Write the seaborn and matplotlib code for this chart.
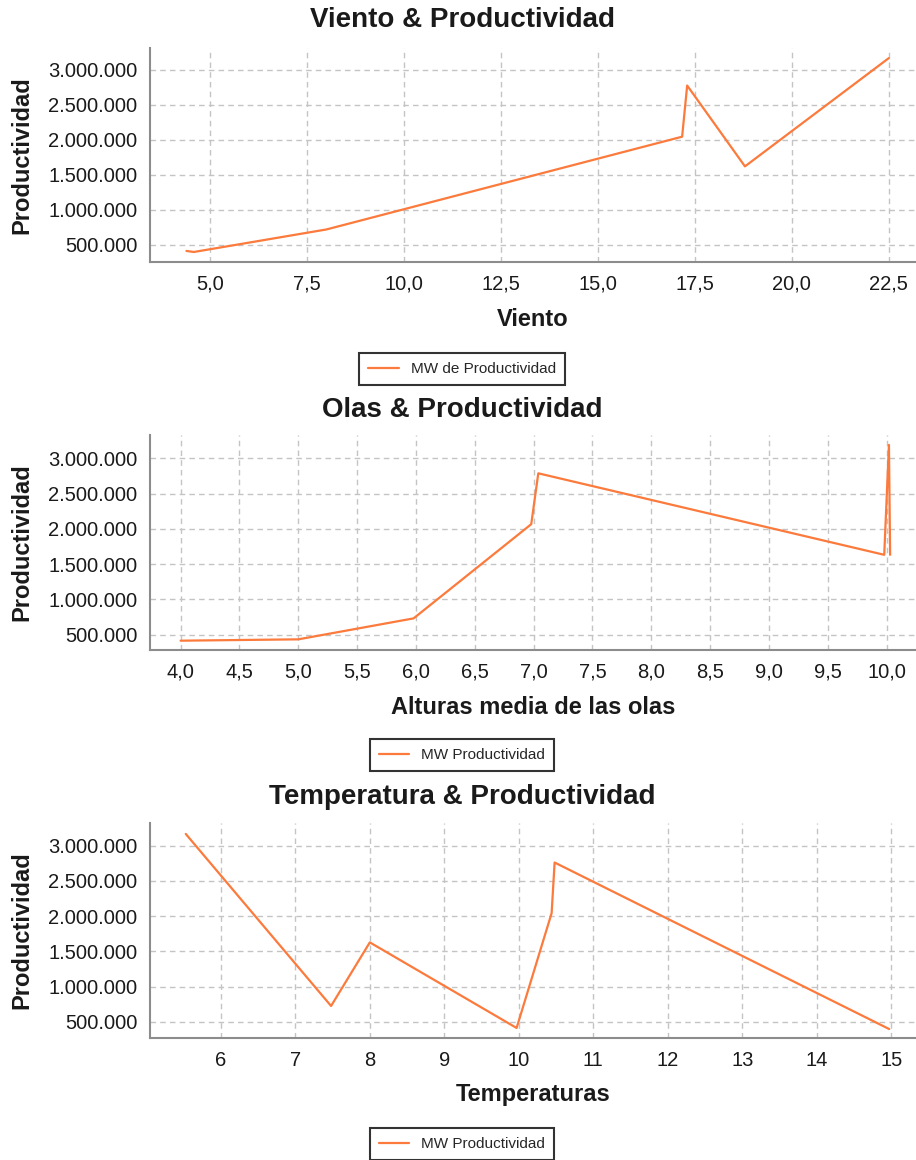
import matplotlib
matplotlib.use("Agg")
from matplotlib import pyplot as plt
from matplotlib.ticker import FuncFormatter, MultipleLocator
import seaborn as sns

sns.set_style("white")
plt.rcParams['font.family'] = ['Liberation Sans', 'DejaVu Sans']

# Viento & Productividad
viento = [4.39, 4.58, 8.0, 17.17, 17.3, 18.79, 22.5]
viento_prod = [415000, 400000, 722000, 2047000, 2778000, 1623000, 3170000]

# Olas & Productividad
olas = [4.0, 5.0, 5.98, 6.98, 7.04, 9.98, 10.02, 10.03]
olas_prod = [415000, 434000, 731000, 2066000, 2787000, 1632000, 3190000, 1632000]

# Temperatura & Productividad
temp = [5.53, 7.48, 8.0, 9.97, 10.44, 10.48, 14.97]
temp_prod = [3165000, 727000, 1628000, 415000, 2043000, 2760000, 400000]

orange = "#fb7a3c"
W, H = 916, 1160

fig = plt.figure(figsize=(W / 100, H / 100), dpi=100)


def miles(v, pos):
    return f"{v:,.0f}".replace(",", ".")


def decimal(v, pos):
    return f"{v:.1f}".replace(".", ",")


def entero(v, pos):
    return f"{v:.0f}"


charts = [
    # top, bottom, title y, xlabel y, legend y, x, y, title, xlabel, legend, xlim, ylim, step, fmt
    (48, 262, 20, 319, 369, viento, viento_prod, "Viento & Productividad", "Viento",
     "MW de Productividad", (3.45, 23.2), (257000, 3314000), 2.5, decimal),
    (435, 650, 410, 708, 755, olas, olas_prod, "Olas & Productividad",
     "Alturas media de las olas", "MW Productividad", (3.74, 10.25), (283000, 3330000), 0.5, decimal),
    (823, 1038, 797, 1095, 1144, temp, temp_prod, "Temperatura & Productividad", "Temperaturas",
     "MW Productividad", (5.05, 15.33), (273000, 3320000), 1, entero),
]

for top, bottom, ty, xy, ly, xs, ys, title, xlabel, leg, xlim, ylim, step, fmt in charts:
    ax = fig.add_axes([150 / W, 1 - bottom / H, (W - 150) / W, (bottom - top) / H])
    sns.lineplot(x=xs, y=ys, ax=ax, color=orange, linewidth=1.6, sort=False,
                 estimator=None, label=leg)
    ax.set_xlim(*xlim)
    ax.set_ylim(*ylim)
    ax.xaxis.set_major_locator(MultipleLocator(step))
    ax.yaxis.set_major_locator(MultipleLocator(500000))
    ax.xaxis.set_major_formatter(FuncFormatter(fmt))
    ax.yaxis.set_major_formatter(FuncFormatter(miles))
    ax.grid(True, color="#c4c4c4", linestyle=(0, (4, 3)), linewidth=1)
    for s in ["top", "right"]:
        ax.spines[s].set_visible(False)
    for s in ["left", "bottom"]:
        ax.spines[s].set_color("#8c8c8c")
        ax.spines[s].set_linewidth(1.5)
    ax.tick_params(axis="both", which="major", length=5, width=1.2, color="#8c8c8c",
                   labelsize=14.5, labelcolor="#1a1a1a", direction="out", pad=4)
    ax.set_xlabel(xlabel, fontsize=17, fontweight="bold", color="#1a1a1a", va="center")
    ax.set_ylabel("Productividad", fontsize=17, fontweight="bold", color="#1a1a1a")
    ax.xaxis.set_label_coords(0.5, -(xy - bottom) / (bottom - top))
    ax.yaxis.set_label_coords((33 - 150) / (W - 150), 0.5)
    fig.text(462 / W, 1 - ty / H, title, ha="center", va="center",
             fontsize=20, fontweight="bold", color="#1a1a1a")
    lg = ax.legend(loc="center", bbox_to_anchor=(462 / W, 1 - ly / H),
                   bbox_transform=fig.transFigure, fontsize=11, frameon=True,
                   fancybox=False, edgecolor="black", handlelength=2.0,
                   borderpad=0.6, handletextpad=0.8)
    lg.get_frame().set_linewidth(1.5)

fig.savefig("out.png", dpi=100)
